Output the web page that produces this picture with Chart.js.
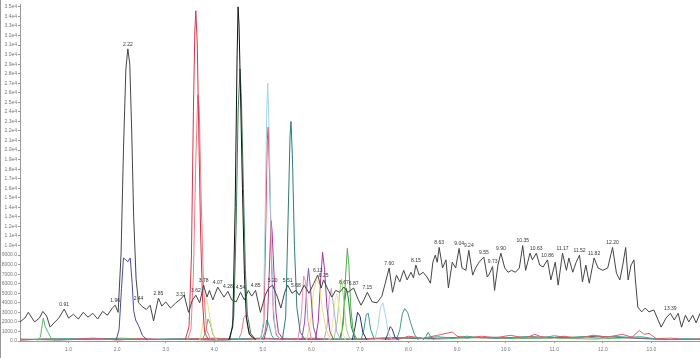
<!DOCTYPE html>
<html>
<head>
<meta charset="utf-8">
<script src="https://cdn.jsdelivr.net/npm/chart.js@4"></script>
<style>
  body { margin: 0; background: #fff; }
  #wrap { position: relative; width: 700px; height: 358px; }
  #edge { position: absolute; left: 0; top: 0; width: 1px; height: 358px; background: #999; }
</style>
</head>
<body>
<div id="wrap">
  <canvas id="chart" width="700" height="358"></canvas>
  <div id="edge"></div>
</div>
<script>
// x ticks (minutes)
const xTicks = [1, 2, 3, 4, 5, 6, 7, 8, 9, 10, 11, 12, 13];
// y ticks (counts)
const yTicks = [0, 1000, 2000, 3000, 4000, 5000, 6000, 7000, 8000, 9000, 10000, 11000, 12000, 13000, 14000, 15000, 16000, 17000,
  18000, 19000, 20000, 21000, 22000, 23000, 24000, 25000, 26000, 27000, 28000, 29000, 30000, 31000, 32000, 33000, 34000, 35000];

// main trace (gray, labelled)
const grayT = [0.00, 0.10, 0.17, 0.30, 0.40, 0.47, 0.55, 0.62, 0.70, 0.80, 0.91, 1.00, 1.10, 1.20, 1.30, 1.40, 1.50, 1.60, 1.70, 1.80, 1.90, 1.96,
  2.02, 2.08, 2.13, 2.18, 2.22, 2.26, 2.30, 2.34, 2.39, 2.44, 2.52, 2.60, 2.68, 2.75, 2.85, 2.92, 3.00, 3.10, 3.20, 3.31, 3.38, 3.47, 3.55, 3.62,
  3.70, 3.78, 3.85, 3.90, 3.97, 4.07, 4.15, 4.20, 4.28, 4.36, 4.45, 4.54, 4.62, 4.70, 4.77, 4.85, 4.95, 5.05, 5.12, 5.20, 5.30, 5.37, 5.45, 5.51,
  5.60, 5.68, 5.75, 5.85, 5.95, 6.05, 6.13, 6.20, 6.25, 6.35, 6.42, 6.50, 6.58, 6.67, 6.75, 6.87, 6.95, 7.02, 7.08, 7.15, 7.25, 7.35, 7.45, 7.52,
  7.60, 7.67, 7.75, 7.82, 7.90, 7.97, 8.05, 8.10, 8.15, 8.22, 8.30, 8.38, 8.45, 8.50, 8.55, 8.59, 8.63, 8.70, 8.77, 8.82, 8.90, 8.97, 9.04, 9.10,
  9.18, 9.24, 9.32, 9.38, 9.45, 9.55, 9.62, 9.66, 9.73, 9.77, 9.84, 9.90, 9.98, 10.05, 10.12, 10.20, 10.28, 10.35, 10.41, 10.50, 10.55, 10.63,
  10.70, 10.77, 10.86, 10.93, 11.02, 11.08, 11.17, 11.25, 11.30, 11.38, 11.45, 11.52, 11.58, 11.65, 11.72, 11.82, 11.90, 12.00, 12.10, 12.20,
  12.28, 12.35, 12.41, 12.47, 12.52, 12.58, 12.64, 12.67, 12.72, 12.80, 12.87, 12.95, 13.05, 13.20, 13.30, 13.39, 13.47, 13.55, 13.62, 13.70,
  13.77, 13.85, 13.92, 14.00];
const grayV = [2000, 2400, 3000, 2000, 2400, 3100, 2600, 1450, 1900, 2400, 3350, 2400, 2800, 2300, 3000, 2500, 2900, 2300, 3100, 2700, 3450, 3750,
  3000, 9000, 20000, 28500, 30600, 29000, 22000, 13000, 6500, 4000, 3600, 3300, 3750, 2100, 4500, 3650, 4100, 3450, 3950, 4400, 4800, 3000, 4300, 4800,
  4000, 5850, 4600, 5300, 4300, 5650, 5000, 4600, 5200, 4300, 4100, 5100, 4300, 5300, 4700, 5300, 3000, 4800, 5550, 5850, 4600, 3450, 5100, 5850,
  5000, 5300, 4800, 5850, 5000, 6050, 6900, 5550, 6400, 5300, 4600, 5300, 5100, 5650, 5100, 5550, 4500, 3750, 4300, 5100, 4100, 4000, 4700, 6050,
  7650, 5100, 6900, 6200, 7400, 6400, 7200, 6600, 7950, 6900, 7200, 6700, 6050, 8250, 9000, 8250, 9800, 7650, 8500, 5550, 8250, 7650, 9700, 7650,
  7400, 9500, 6900, 7650, 8250, 8800, 6700, 7000, 7800, 5300, 7950, 9200, 7650, 7200, 7400, 7200, 7650, 10000, 7400, 9200, 8500, 9200,
  7950, 7750, 8500, 6400, 8250, 5850, 9200, 7400, 8700, 7200, 8250, 9000, 6200, 7950, 6050, 8700, 7650, 7400, 7650, 9800,
  7100, 6400, 7950, 9800, 6400, 7950, 8500, 6400, 3550, 3050, 3450, 3050, 3250, 1450, 2400, 2900, 2200, 2900, 1450, 2700,
  2000, 2700, 1900, 2900];

// retention-time labels on the main trace
const peakLabels = [0.91, 1.96, 2.22, 2.44, 2.85, 3.31, 3.62, 3.78, 4.07, 4.28, 4.54, 4.85, 5.20, 5.51, 5.68, 6.13, 6.25, 6.67, 6.87, 7.15,
  7.60, 8.15, 8.63, 9.04, 9.24, 9.55, 9.73, 9.90, 10.35, 10.63, 10.86, 11.17, 11.52, 11.82, 12.20, 13.39];

// extracted ion traces
const redT = [3.40, 3.48, 3.53, 3.57, 3.60, 3.62, 3.65, 3.68, 3.72, 3.76, 3.80, 3.88];
const redV = [100, 1500, 9000, 24000, 32500, 34600, 31000, 22000, 11000, 4000, 900, 150];
const salmonT = [3.45, 3.52, 3.57, 3.62, 3.66, 3.69, 3.73, 3.78, 3.84, 3.92];
const salmonV = [100, 1200, 7000, 19000, 25800, 24500, 15000, 5500, 1200, 200];
const blackT = [4.30, 4.38, 4.43, 4.47, 4.49, 4.51, 4.54, 4.58, 4.62, 4.66, 4.72, 4.85];
const blackV = [100, 1500, 14000, 30000, 35000, 33000, 26000, 16000, 7000, 2500, 700, 150];
const greenT = [4.32, 4.40, 4.45, 4.49, 4.53, 4.56, 4.60, 4.64, 4.68, 4.75, 4.85];
const greenV = [100, 2500, 12000, 24000, 28500, 25000, 16000, 7500, 2800, 800, 150];
const skyT = [4.95, 5.01, 5.05, 5.08, 5.10, 5.13, 5.17, 5.21, 5.26, 5.35];
const skyV = [100, 2000, 14000, 24000, 27000, 22000, 11000, 4000, 1000, 200];
const roseT = [4.95, 5.02, 5.06, 5.09, 5.11, 5.14, 5.18, 5.22, 5.28, 5.38];
const roseV = [100, 1800, 12000, 21000, 22400, 17000, 8000, 2500, 600, 150];
const magentaT = [5.02, 5.09, 5.13, 5.17, 5.19, 5.23, 5.27, 5.32, 5.42];
const magentaV = [100, 1500, 7000, 12600, 11500, 7000, 3000, 900, 150];
const tealT = [5.40, 5.47, 5.52, 5.56, 5.58, 5.61, 5.65, 5.70, 5.77, 5.87];
const tealV = [100, 2500, 13000, 21500, 23000, 19000, 10000, 3500, 900, 150];
const indigoT = [1.98, 2.04, 2.09, 2.13, 2.18, 2.22, 2.27, 2.31, 2.34, 2.38, 2.45, 2.52, 2.62];
const indigoV = [100, 1200, 5500, 8700, 8500, 8300, 8700, 6000, 3200, 2200, 1500, 600, 100];
const limeT = [0.35, 0.42, 0.46, 0.48, 0.52, 0.58, 0.64, 0.72];
const limeV = [50, 400, 1800, 2400, 1500, 900, 300, 50];
const straw1T = [3.70, 3.76, 3.80, 3.84, 3.88, 3.93, 3.98, 4.05];
const straw1V = [100, 1500, 3800, 4500, 3500, 1800, 700, 100];
const moss1T = [3.75, 3.82, 3.87, 3.92, 3.97, 4.05];
const moss1V = [100, 900, 2300, 1800, 700, 100];
const pink1T = [4.50, 4.56, 4.61, 4.65, 4.70, 4.78];
const pink1V = [100, 900, 2500, 2700, 1200, 150];
const jadeT = [4.98, 5.04, 5.08, 5.12, 5.18, 5.25];
const jadeV = [100, 900, 2200, 1800, 600, 100];
const pink2T = [5.72, 5.79, 5.84, 5.88, 5.93, 6.00];
const pink2V = [100, 2500, 6800, 6200, 2000, 200];
const violetT = [5.80, 5.86, 5.91, 5.94, 5.98, 6.04, 6.12];
const violetV = [100, 2000, 6000, 7600, 5500, 1500, 100];
const straw2T = [5.90, 5.98, 6.04, 6.10, 6.16, 6.22, 6.30, 6.40];
const straw2V = [100, 2000, 5000, 6400, 6000, 3500, 1200, 150];
const plumT = [6.08, 6.14, 6.19, 6.23, 6.27, 6.32, 6.38, 6.46];
const plumV = [100, 2000, 6500, 9300, 7500, 3500, 1000, 100];
const lavenderT = [6.26, 6.32, 6.37, 6.41, 6.46, 6.52, 6.60];
const lavenderV = [100, 1500, 4500, 5500, 3500, 1000, 100];
const straw3T = [6.36, 6.43, 6.48, 6.52, 6.57, 6.63, 6.70];
const straw3V = [100, 1500, 4000, 5000, 3500, 1000, 100];
const leafT = [6.46, 6.53, 6.58, 6.62, 6.66, 6.72, 6.80];
const leafV = [100, 2000, 5000, 6500, 4500, 1200, 100];
const green2T = [6.60, 6.66, 6.70, 6.74, 6.77, 6.81, 6.86, 6.94];
const green2V = [100, 2000, 6500, 9700, 8000, 3500, 1000, 100];
const forestT = [6.58, 6.64, 6.68, 6.72, 6.76, 6.82, 6.90];
const forestV = [100, 1500, 4000, 5500, 4500, 1500, 200];
const navy1T = [6.84, 6.90, 6.95, 7.00, 7.06, 7.14];
const navy1V = [100, 1500, 3000, 2600, 900, 100];
const teal2T = [7.02, 7.08, 7.13, 7.17, 7.22, 7.30];
const teal2V = [100, 1200, 2800, 2900, 1200, 100];
const iceT = [7.30, 7.37, 7.42, 7.47, 7.52, 7.58, 7.66];
const iceV = [100, 1500, 3500, 4000, 2800, 900, 100];
const navy2T = [7.52, 7.57, 7.62, 7.66, 7.72, 7.80];
const navy2V = [100, 700, 1500, 1300, 400, 100];
const teal3T = [7.75, 7.82, 7.87, 7.92, 7.98, 8.05, 8.12, 8.20];
const teal3V = [100, 1200, 2800, 3400, 3000, 1800, 700, 100];
const teal4T = [8.30, 8.36, 8.40, 8.45, 8.52];
const teal4V = [100, 500, 900, 500, 100];

// baseline noise traces
const redNT = [0.0, 0.5, 1.0, 1.5, 2.0, 2.5, 3.0, 3.5, 4.0, 4.5, 5.0, 5.5, 6.0, 6.5, 7.0, 7.5, 7.8, 8.0, 8.3, 8.6, 8.9, 9.0, 9.2, 9.5,
  9.8, 10.1, 10.4, 10.6, 10.7, 10.9, 11.2, 11.5, 11.8, 12.1, 12.4, 12.6, 12.75, 12.85, 12.95, 13.1, 13.4, 13.7, 14.0];
const redNV = [100, 200, 150, 300, 100, 250, 150, 200, 300, 150, 250, 200, 300, 150, 200, 300, 200, 500, 300, 600, 950, 500, 300, 500,
  350, 600, 300, 700, 500, 300, 500, 300, 600, 400, 700, 400, 1100, 700, 800, 250, 300, 150, 200];
const tealNT = [0.0, 1.0, 2.0, 3.0, 4.0, 7.0, 7.3, 7.6, 8.0, 8.3, 8.6, 8.9, 9.2, 9.5, 9.8, 10.1, 10.4, 10.7, 11.0, 11.3, 11.6, 11.9, 12.2,
  12.5, 12.8, 13.1, 13.4, 13.7, 14.0];
const tealNV = [150, 250, 150, 200, 250, 200, 300, 150, 400, 250, 450, 300, 500, 350, 400, 300, 450, 300, 550, 350, 450, 300, 500,
  400, 450, 200, 150, 250, 150];
const grayNT = [0.0, 0.8, 1.6, 2.4, 3.2, 4.0, 5.0, 6.0, 7.0, 7.7, 8.4, 9.1, 9.8, 10.5, 11.2, 11.9, 12.6, 13.3, 14.0];
const grayNV = [200, 100, 250, 150, 200, 100, 250, 150, 200, 350, 250, 400, 300, 450, 350, 500, 300, 150, 200];
const greenNT = [0.0, 0.7, 1.4, 2.1, 2.8, 3.5, 4.2, 4.9, 5.6, 6.3, 7.0, 7.8, 8.6, 9.4, 10.2, 11.0, 11.8, 12.6, 13.4, 14.0];
const greenNV = [100, 250, 150, 300, 150, 250, 100, 300, 200, 250, 150, 300, 200, 350, 250, 300, 200, 350, 150, 200];

const line = (t, v, color) => ({
  data: t.map((x, i) => ({ x: x, y: v[i] })),
  borderColor: color,
  borderWidth: 1,
  pointRadius: 0,
  tension: 0,
  fill: false
});

// draws the retention-time text above the main trace
const peakText = {
  id: 'peakText',
  afterDatasetsDraw(chart) {
    const ctx = chart.ctx;
    const xs = chart.scales.x, ys = chart.scales.y;
    ctx.save();
    ctx.font = '5px "Liberation Sans", Arial, sans-serif';
    ctx.fillStyle = '#333';
    ctx.textAlign = 'center';
    ctx.textBaseline = 'bottom';
    peakLabels.forEach(t => {
      let best = 0;
      grayT.forEach((g, i) => { if (Math.abs(g - t) < Math.abs(grayT[best] - t)) best = i; });
      ctx.fillText(t.toFixed(2), xs.getPixelForValue(t), ys.getPixelForValue(grayV[best]) - 2);
    });
    ctx.restore();
  }
};

new Chart(document.getElementById('chart'), {
  type: 'line',
  data: {
    datasets: [
      line(grayT, grayV, '#444444'),
      line(blackT, blackV, '#111111'),
      line(greenT, greenV, '#3b7f52'),
      line(redT, redV, '#d8344c'),
      line(salmonT, salmonV, '#e8808c'),
      line(skyT, skyV, '#a5d3e6'),
      line(roseT, roseV, '#e0405e'),
      line(magentaT, magentaV, '#b0338f'),
      line(tealT, tealV, '#2f7a7d'),
      line(indigoT, indigoV, '#4a4aa3'),
      line(limeT, limeV, '#5bb66a'),
      line(straw1T, straw1V, '#e6df8c'),
      line(moss1T, moss1V, '#6aa85a'),
      line(pink1T, pink1V, '#e07a9a'),
      line(jadeT, jadeV, '#3fa38e'),
      line(pink2T, pink2V, '#e58fb8'),
      line(violetT, violetV, '#8a4fb0'),
      line(straw2T, straw2V, '#e8e07a'),
      line(plumT, plumV, '#a23a9a'),
      line(lavenderT, lavenderV, '#b9a3d9'),
      line(straw3T, straw3V, '#ede7a0'),
      line(leafT, leafV, '#9ad77a'),
      line(green2T, green2V, '#4caf50'),
      line(forestT, forestV, '#2e7d32'),
      line(navy1T, navy1V, '#233070'),
      line(teal2T, teal2V, '#3c9a8a'),
      line(iceT, iceV, '#a9d4ea'),
      line(navy2T, navy2V, '#263a80'),
      line(teal3T, teal3V, '#3c9a8a'),
      line(teal4T, teal4V, '#3c9a9a'),
      line(redNT, redNV, '#e05a6a'),
      line(tealNT, tealNV, '#4aa0a0'),
      line(grayNT, grayNV, '#666666'),
      line(greenNT, greenNV, '#6ab86a')
    ]
  },
  options: {
    responsive: false,
    animation: false,
    devicePixelRatio: 1,
    layout: { padding: { top: 3, right: 0, left: 0, bottom: 0 } },
    plugins: { legend: { display: false }, tooltip: { enabled: false } },
    scales: {
      x: {
        type: 'linear',
        min: 0,
        max: 14,
        afterBuildTicks: s => { s.ticks = xTicks.map(v => ({ value: v })); },
        afterFit: s => { s.height = 17; },
        ticks: {
          autoSkip: false,
          maxRotation: 0,
          padding: 4,
          color: '#777',
          font: { size: 5, family: '"Liberation Sans", Arial, sans-serif' },
          callback: v => v.toFixed(1)
        },
        grid: { drawOnChartArea: false, tickLength: 2, color: '#999' },
        border: { color: '#999' }
      },
      y: {
        min: 0,
        max: 35300,
        afterBuildTicks: s => { s.ticks = yTicks.map(v => ({ value: v })); },
        afterFit: s => { s.width = 20; },
        ticks: {
          autoSkip: false,
          padding: 1,
          color: '#777',
          font: { size: 5, family: '"Liberation Sans", Arial, sans-serif' },
          callback: v => v < 10000 ? v.toFixed(1) : (v / 10000).toFixed(1) + 'e4'
        },
        grid: { drawOnChartArea: false, tickLength: 2, color: '#999' },
        border: { color: '#999' }
      }
    }
  },
  plugins: [peakText]
});
</script>
</body>
</html>
